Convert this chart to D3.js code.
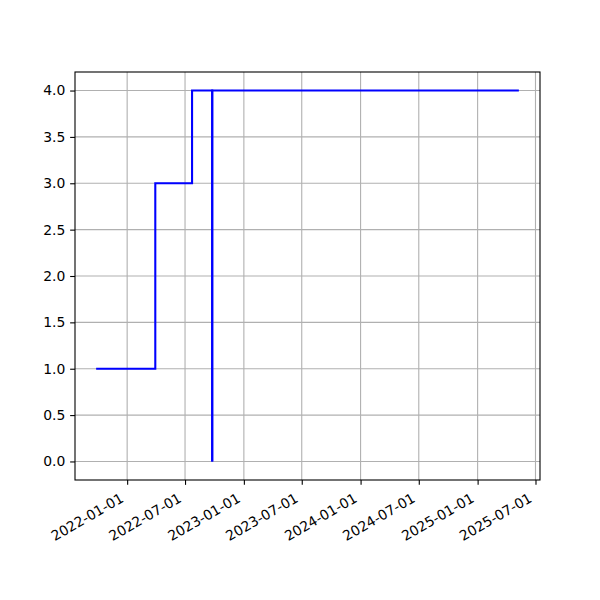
<!DOCTYPE html>
<html><head><meta charset="utf-8">
<script src="https://cdn.jsdelivr.net/npm/d3@7"></script>
<style>body{margin:0;background:#fff}svg{display:block}</style>
</head><body>
<script>
const dates = ["2021-09-26","2022-03-30","2022-07-23","2022-09-24","2022-09-24","2025-05-10"];
const values = [1, 3, 4, 0, 4, 4];
const xTickLabels = ["2022-01-01","2022-07-01","2023-01-01","2023-07-01","2024-01-01","2024-07-01","2025-01-01","2025-07-01"];
const yTicks = [0,0.5,1,1.5,2,2.5,3,3.5,4];

const W=600,H=600, L=75, R=540, T=72, B=480;
const parse = d3.utcParse("%Y-%m-%d");
const data = dates.map((d,i)=>({x:parse(d), y:values[i]}));
const xExt = d3.extent(data, d=>d.x);
const span = xExt[1]-xExt[0];
const x = d3.scaleUtc().domain([new Date(+xExt[0]-span*0.05), new Date(+xExt[1]+span*0.05)]).range([L,R]);
const y = d3.scaleLinear().domain([-0.2,4.2]).range([B,T]);
const fs = 13.9;
const svg = d3.select("body").append("svg").attr("width",W).attr("height",H);

const xt = xTickLabels.map(parse);
// grid
svg.append("g").selectAll("line").data(xt).join("line")
  .attr("x1",d=>x(d)).attr("x2",d=>x(d)).attr("y1",T).attr("y2",B)
  .attr("stroke","#b0b0b0").attr("stroke-width",1.1);
svg.append("g").selectAll("line").data(yTicks).join("line")
  .attr("x1",L).attr("x2",R).attr("y1",d=>y(d)).attr("y2",d=>y(d))
  .attr("stroke","#b0b0b0").attr("stroke-width",1.1);

// line (drawn as two overlapping pieces so the down-and-up spike overlaps like the original)
const line = d3.line().x(d=>x(d.x)).y(d=>y(d.y)).curve(d3.curveStepAfter);
const cut = 4;
[data.slice(0,cut), data.slice(cut-1)].forEach(seg=>{
  svg.append("path").datum(seg).attr("d",line).attr("fill","none")
    .attr("stroke","#0000ff").attr("stroke-width",2.08).attr("stroke-linejoin","miter");
});

// axes
const xAxis = d3.axisBottom(x).tickValues(xt).tickSize(4.86).tickPadding(4.86)
  .tickFormat((d,i)=>xTickLabels[i]);
const gx = svg.append("g").attr("transform",`translate(0,${B})`).call(xAxis);
gx.select(".domain").remove();
gx.selectAll(".tick line").attr("stroke","#000").attr("stroke-width",1.1);
gx.selectAll(".tick text").attr("font-family","DejaVu Sans").attr("font-size",fs).attr("fill","#000")
  .attr("text-anchor","end").attr("dy",null).attr("y",null)
  .attr("transform","translate(-3,21) rotate(-30)");

const yAxis = d3.axisLeft(y).tickValues(yTicks).tickSize(4.86).tickPadding(4.86).tickFormat(d3.format(".1f"));
const gy = svg.append("g").attr("transform",`translate(${L},0)`).call(yAxis);
gy.select(".domain").remove();
gy.selectAll(".tick line").attr("stroke","#000").attr("stroke-width",1.1);
gy.selectAll(".tick text").attr("font-family","DejaVu Sans").attr("font-size",fs).attr("fill","#000");

svg.append("rect").attr("x",L).attr("y",T).attr("width",R-L).attr("height",B-T)
  .attr("fill","none").attr("stroke","#000").attr("stroke-width",1.1);
</script>
</body></html>
